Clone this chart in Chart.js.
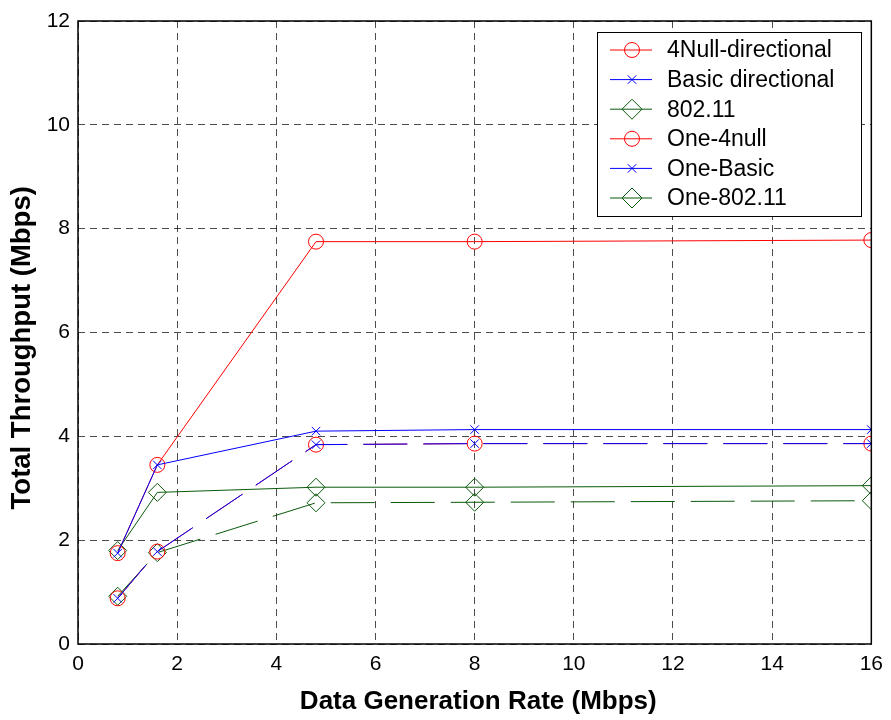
<!DOCTYPE html>
<html>
<head>
<meta charset="utf-8">
<script src="https://cdn.jsdelivr.net/npm/chart.js@4.4.1/dist/chart.umd.min.js"></script>
<style>
  html, body { margin: 0; padding: 0; background: #fff; }
  #wrap { width: 891px; height: 720px; }
</style>
</head>
<body>
<div id="wrap"><canvas id="tputChart" width="891" height="720"></canvas></div>
<script>
// Data
var rates = [0.8, 1.6, 4.8, 8, 16];
var xTicks = [0, 2, 4, 6, 8, 10, 12, 14, 16];
var yTicks = [0, 2, 4, 6, 8, 10, 12];

var null4Directional = [1.75, 3.45, 7.75, 7.75, 7.78];
var basicDirectional = [1.75, 3.45, 4.10, 4.13, 4.13];
var dot11 = [1.80, 2.92, 3.02, 3.02, 3.05];
var one4null = [0.88, 1.78, 3.84, 3.86, 3.86];
var oneBasic = [0.88, 1.78, 3.84, 3.86, 3.86];
var one80211 = [0.92, 1.76, 2.72, 2.73, 2.76];

var seriesNames = ['4Null-directional', 'Basic directional', '802.11', 'One-4null', 'One-Basic', 'One-802.11'];

var RED = '#ff0000';
var BLUE = '#0000ff';
var GREEN = '#0b5a0b';
var FONT = '"Liberation Sans", Arial, sans-serif';
var LONG_DASH = [44, 16];
var GRID = 'rgba(0,0,0,0.7)';

function toPoints(ys) {
    return rates.map(function(x, i) { return { x: x, y: ys[i] }; });
}

function makeSet(label, ys, color, style, radius, dashed) {
    return {
        label: label,
        data: toPoints(ys),
        borderColor: color,
        backgroundColor: 'rgba(0,0,0,0)',
        borderWidth: 1,
        borderDash: dashed ? LONG_DASH : [],
        pointStyle: style,
        pointRadius: radius,
        pointBorderColor: color,
        pointBackgroundColor: 'rgba(0,0,0,0)',
        pointBorderWidth: 1,
        tension: 0,
        fill: false
    };
}

// first dataset ends up drawn on top
var datasets = [
    makeSet(seriesNames[1], basicDirectional, BLUE, 'crossRot', 6, false),
    makeSet(seriesNames[0], null4Directional, RED, 'circle', 7.5, false),
    makeSet(seriesNames[2], dot11, GREEN, 'rectRot', 9, false),
    makeSet(seriesNames[4], oneBasic, BLUE, 'crossRot', 6, true),
    makeSet(seriesNames[3], one4null, RED, 'circle', 7.5, true),
    makeSet(seriesNames[5], one80211, GREEN, 'rectRot', 9, true)
];

// legend order as in the figure
var legendOrder = [1, 0, 2, 4, 3, 5];

// box around the plot area plus a MATLAB style legend (line + marker)
var boxAndLegend = {
    id: 'boxAndLegend',
    afterDatasetsDraw: function(chart) {
        var ctx = chart.ctx;
        var a = chart.chartArea;
        ctx.save();
        ctx.setLineDash([]);
        ctx.strokeStyle = '#000';
        ctx.lineWidth = 1.5;
        ctx.strokeRect(a.left, a.top, a.right - a.left, a.bottom - a.top);

        var bx = 597, by = 32, bw = 264, bh = 184;
        ctx.fillStyle = '#fff';
        ctx.fillRect(bx, by, bw, bh);
        ctx.lineWidth = 1;
        ctx.strokeRect(bx + 0.5, by + 0.5, bw, bh);

        ctx.font = '23px ' + FONT;
        ctx.textBaseline = 'middle';
        legendOrder.forEach(function(di, row) {
            var ds = chart.data.datasets[di];
            var yy = by + 18 + row * 29.6;
            ctx.strokeStyle = ds.borderColor;
            ctx.lineWidth = 1;
            ctx.beginPath();
            ctx.moveTo(bx + 13, yy);
            ctx.lineTo(bx + 55, yy);
            ctx.stroke();
            ctx.fillStyle = 'rgba(0,0,0,0)';
            Chart.helpers.drawPoint(ctx, {
                pointStyle: ds.pointStyle,
                radius: ds.pointStyle === 'rectRot' ? 10 : ds.pointRadius,
                borderWidth: 1,
                rotation: 0
            }, bx + 35, yy);
            ctx.fillStyle = '#000';
            ctx.fillText(ds.label, bx + 70, yy + 1);
        });
        ctx.restore();
    }
};

var ctx = document.getElementById('tputChart');
new Chart(ctx, {
    type: 'line',
    data: { datasets: datasets },
    options: {
        responsive: false,
        animation: false,
        layout: { padding: { top: 21, right: 17, left: 0, bottom: 0 } },
        plugins: {
            legend: { display: false },
            tooltip: { enabled: false }
        },
        scales: {
            x: {
                type: 'linear',
                min: 0,
                max: 16,
                afterBuildTicks: function(scale) {
                    scale.ticks = xTicks.map(function(v) { return { value: v }; });
                },
                afterFit: function(scale) { scale.height = 76; },
                ticks: {
                    color: '#000',
                    padding: 8,
                    maxRotation: 0,
                    font: { family: FONT, size: 21 }
                },
                grid: {
                    color: GRID,
                    lineWidth: 1,
                    drawTicks: false
                },
                border: { display: false, dash: [7, 5] },
                title: {
                    display: true,
                    // leading space nudges the title a little to the right, as in the figure
                    text: ' Data Generation Rate (Mbps)',
                    color: '#000',
                    padding: { top: 0, bottom: 3 },
                    font: { family: FONT, size: 26, weight: 'bold' }
                }
            },
            y: {
                type: 'linear',
                min: 0,
                max: 12,
                afterBuildTicks: function(scale) {
                    scale.ticks = yTicks.map(function(v) { return { value: v }; });
                },
                afterFit: function(scale) { scale.width = 78; },
                ticks: {
                    color: '#000',
                    padding: 8,
                    font: { family: FONT, size: 21 }
                },
                grid: {
                    color: GRID,
                    lineWidth: 1,
                    drawTicks: false
                },
                border: { display: false, dash: [7, 5] },
                title: {
                    display: true,
                    // trailing spaces push the rotated title down to where it sits in the figure
                    text: 'Total Throughput (Mbps)    ',
                    color: '#000',
                    padding: { top: 6, bottom: 0 },
                    font: { family: FONT, size: 27.5, weight: 'bold' }
                }
            }
        }
    },
    plugins: [boxAndLegend]
});
</script>
</body>
</html>
